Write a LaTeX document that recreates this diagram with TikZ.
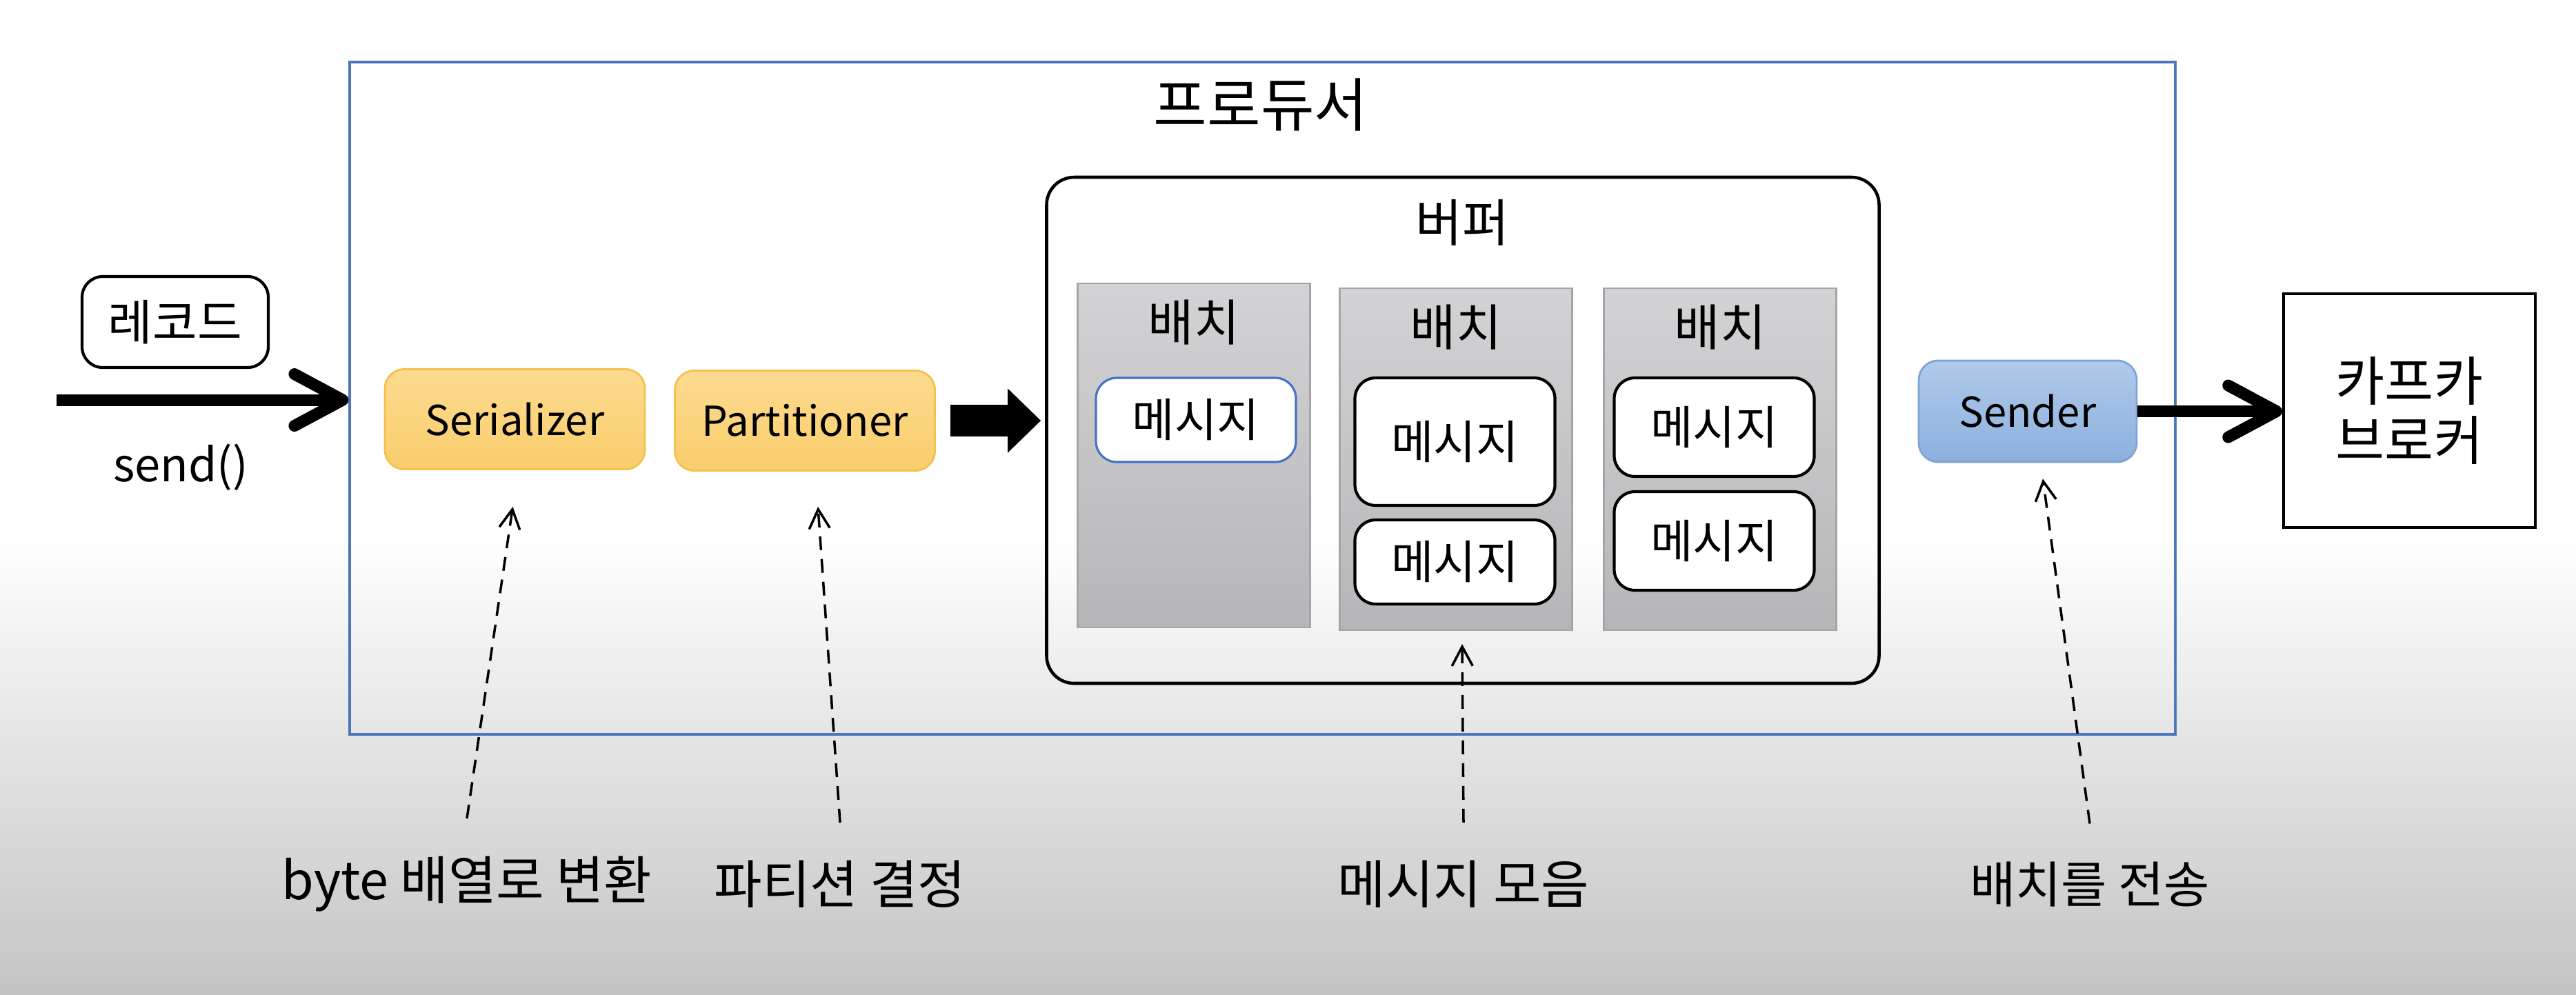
\documentclass[tikz,border=0pt]{standalone}
\usepackage{fontspec}
\setmainfont{Noto Sans CJK KR}
\usetikzlibrary{arrows.meta,positioning,calc}
\definecolor{prodblue}{HTML}{4F76BA}
\definecolor{ortop}{HTML}{FDDB90}
\definecolor{orbot}{HTML}{F9CD6C}
\definecolor{orline}{HTML}{F2C24C}
\definecolor{bltop}{HTML}{B0CAEA}
\definecolor{blbot}{HTML}{8CB0DE}
\definecolor{blline}{HTML}{7EA3D6}
\definecolor{grtop}{HTML}{D3D3D5}
\definecolor{grbot}{HTML}{B6B6B8}
\definecolor{grline}{HTML}{A5A5A7}
\definecolor{msgblue}{HTML}{4472C4}
\definecolor{bgbot}{HTML}{C4C4C4}

\tikzset{
  box/.style={draw, rounded corners=0.3cm, line width=1.2pt, fill=white, inner sep=0pt, font=\fontsize{19pt}{22pt}\selectfont},
  stage/.style={rounded corners=0.28cm, draw=orline, line width=0.8pt, top color=ortop, bottom color=orbot, minimum width=3.77cm, minimum height=1.45cm, inner sep=0pt, font=\fontsize{17pt}{20pt}\selectfont},
  batchbox/.style={draw=grline, line width=0.6pt, top color=grtop, bottom color=grbot, minimum width=3.37cm, inner sep=0pt},
  msg/.style={box, minimum width=2.9cm},
  fat/.style={line width=0.17cm, -{Straight Barb[length=0.7cm,width=0.75cm,round]}},
  block/.style={line width=0.46cm, -{Triangle[length=0.48cm,width=0.9cm]}},
  note/.style={line width=1pt, dash pattern=on 0.2cm off 0.13cm, -{Straight Barb[length=0.28cm,width=0.3cm]}},
  hand/.style={font=\fontsize{21.5pt}{24pt}\selectfont, inner sep=0pt, outer ysep=0.55cm},
}

\begin{document}
\begin{tikzpicture}[x=1cm,y=-1cm]
\fill[white] (0,0) rectangle (37.35,7.8);
\shade[top color=white, bottom color=bgbot] (0,7.8) rectangle (37.35,14.42);
\useasboundingbox (0,0) rectangle (37.35,14.42);

\node[draw=prodblue, line width=0.9pt, minimum width=26.47cm, minimum height=9.75cm] (producer) at (18.305,5.775) {};
\node[font=\fontsize{24pt}{26pt}\selectfont] (ptitle) at (18.28,1.52) {프로듀서};

\node[box, minimum width=2.7cm, minimum height=1.32cm, font=\fontsize{20pt}{22pt}\selectfont] (record) at (2.54,4.67) {레코드};
\coordinate (in) at (0.82,5.80);
\draw[fat] (in) -- (in -| producer.west);
\node[font=\fontsize{19pt}{21pt}\selectfont] (sendlbl) at (2.62,6.78) {send()};

\node[stage] (serializer) at (7.465,6.08) {Serializer};
\node[stage] (partitioner) at (11.67,6.10) {Partitioner};

\node[draw, line width=1.3pt, rounded corners=0.4cm, minimum width=12.07cm, minimum height=7.34cm] (buffer) at (21.21,6.24) {};
\node[font=\fontsize{21pt}{23pt}\selectfont] (btitle) at (21.2,3.23) {버퍼};
\draw[block, shorten <=0.21cm, shorten >=0.06cm] (partitioner.east) -- (partitioner.east -| buffer.west);

\foreach \i/\x/\y/\h in {1/17.31/6.605/4.99, 2/21.11/6.66/4.96, 3/24.94/6.66/4.96}{
  \node[batchbox, minimum height=\h cm] (batch\i) at (\x,\y) {};
  \node[font=\fontsize{20.5pt}{22pt}\selectfont] (blabel\i) at ([yshift=-0.58cm]batch\i.north) {배치};
}

\node[msg, draw=msgblue, line width=0.9pt, minimum height=1.22cm] (msg1) at (17.34,6.09) {메시지};
\node[msg, minimum height=1.85cm] (msg2) at (21.095,6.405) {메시지};
\node[msg, minimum height=1.22cm] (msg3) at (21.095,8.15) {메시지};
\node[msg, minimum height=1.43cm] (msg4) at (24.855,6.195) {메시지};
\node[msg, minimum height=1.43cm] (msg5) at (24.855,7.845) {메시지};

\node[stage, draw=blline, top color=bltop, bottom color=blbot, minimum width=3.16cm, minimum height=1.47cm] (sender) at (29.40,5.965) {Sender};
\node[draw, line width=1pt, minimum width=3.65cm, minimum height=3.39cm, align=center, font=\fontsize{22pt}{24.5pt}\selectfont] (broker) at (34.935,5.955) {카프카\\브로커};
\draw[fat] (sender.east) -- (sender.east -| broker.west);

\node[hand] (note1) at (6.77,12.82) {byte 배열로 변환};
\node[hand] (note2) at (12.18,12.82) {파티션 결정};
\node[hand] (note3) at (21.22,12.82) {메시지 모음};
\node[hand, font=\fontsize{20.5pt}{23pt}\selectfont] (note4) at (30.30,12.82) {배치를 전송};
\draw[note] (note1.north) -- ([xshift=-0.3mm,yshift=-0.53cm]serializer.south);
\draw[note] (note2.north) -- ([xshift=0.19cm,yshift=-0.51cm]partitioner.south);
\draw[note] (note3.north) -- ([xshift=0.09cm,yshift=-0.19cm]batch2.south);
\draw[note] (note4.north) -- ([xshift=0.22cm,yshift=-0.23cm]sender.south);
\end{tikzpicture}
\end{document}
